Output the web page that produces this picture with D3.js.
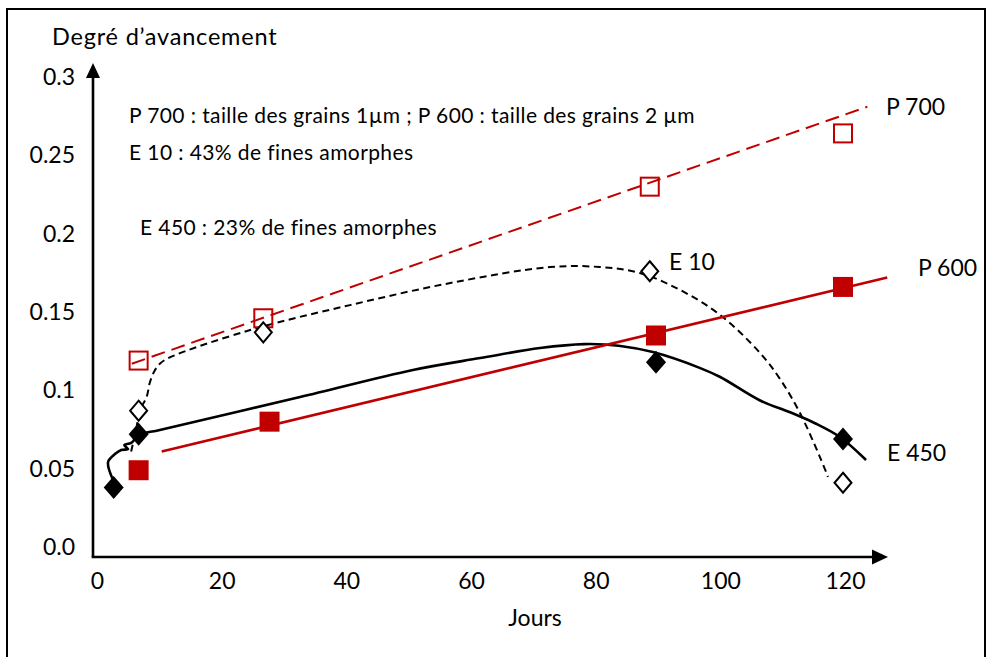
<!DOCTYPE html>
<html><head><meta charset="utf-8">
<script src="https://cdn.jsdelivr.net/npm/d3@7"></script>
<style>
html,body{margin:0;padding:0;background:#fff;}
svg{display:block;font-family:Lato,"Open Sans",sans-serif;}
</style></head><body>
<svg id="chart" width="987" height="657"></svg>
<script>
// Measured degree of advancement (day, value) for each material
const p700Points = [[7,0.119],[27,0.146],[89,0.230],[120,0.264]];
const p600Points = [[7,0.049],[28,0.080],[90,0.135],[120,0.166]];
const e10Points  = [[7,0.087],[27,0.137],[89,0.176],[120,0.041]];
const e450Points = [[3,0.038],[7,0.072],[90,0.118],[120,0.069]];

// Linear trends of the P series (end points)
const p700Trend = [[5.9,0.117],[123.9,0.281]];
const p600Trend = [[10.7,0.061],[127.1,0.172]];

// Smoothed curves of the E series
const e10Curve = [[5.8,0.061],[6.6,0.075],[7.2,0.087],[8.3,0.096],[8.8,0.105],[9.5,0.112],
  [10.4,0.117],[12.0,0.121],[24.9,0.1385],[40.9,0.1544],[57.0,0.1685],[73.0,0.1787],[81.0,0.1787],
  [87.4,0.1749],[93.9,0.164],[100.3,0.1481],[106.7,0.1238],[109.9,0.1072],[113.1,0.0855],
  [116.3,0.0574],[117.6,0.0447]];
const e450Curve = [[2.9,0.0428],[2.1,0.0542],[3.2,0.0593],[4.2,0.0619],[5.3,0.0625],[4.7,0.0651],
  [5.8,0.0664],[7.1,0.0715],[10.4,0.0747],[32.9,0.0957],[51.0,0.1130],[61.8,0.1206],[71.4,0.1270],
  [78.5,0.1295],[84.0,0.1285],[89.5,0.1244],[97.1,0.1142],[100.3,0.1085],[106.7,0.0935],
  [111.5,0.0860],[115.5,0.0790],[119.5,0.0702],[123.7,0.0555]];

const xTicks = [0,20,40,60,80,100,120];
const yTicks = [0,0.05,0.1,0.15,0.2,0.25,0.3];
const yTickLabels = ["0.0","0.05","0.1","0.15","0.2","0.25","0.3"];

const notes = [
  "P 700 : taille des grains 1µm ; P 600 : taille des grains 2 µm",
  "E 10 : 43% de fines amorphes",
  "E 450 : 23% de fines amorphes"
];
const seriesNames = ["P 700","E 10","P 600","E 450"];

const RED = "#C00000";
const svg = d3.select("#chart");

const x = d3.scaleLinear().domain([0,120]).range([95,843]);
const y = d3.scaleLinear().domain([0,0.3]).range([547,77]);

// frame
svg.append("rect").attr("x",7).attr("y",9).attr("width",978).attr("height",670)
  .attr("fill","none").attr("stroke","#000").attr("stroke-width",2);

// axes with arrows
const ox = 93, oy = 557, xEnd = 888, yEnd = 63;
svg.append("line").attr("x1",ox).attr("y1",oy).attr("x2",ox).attr("y2",yEnd+10)
  .attr("stroke","#000").attr("stroke-width",2.6);
svg.append("line").attr("x1",ox-1.3).attr("y1",oy).attr("x2",xEnd-10).attr("y2",oy)
  .attr("stroke","#000").attr("stroke-width",2.6);
svg.append("path").attr("d",`M${ox},${yEnd} L${ox+7},${yEnd+15} L${ox-7},${yEnd+15}Z`).attr("fill","#000");
svg.append("path").attr("d",`M${xEnd},${oy} L${xEnd-16},${oy-7.5} L${xEnd-16},${oy+7.5}Z`).attr("fill","#000");

// tick labels
const gx = svg.append("g").attr("transform",`translate(2,${oy})`)
  .call(d3.axisBottom(x).tickValues(xTicks).tickSize(0).tickPadding(16).tickFormat(d3.format("d")));
gx.select(".domain").remove();
gx.selectAll("text").attr("font-size",23).attr("font-family","Lato").attr("fill","#000");

const gy = svg.append("g").attr("transform",`translate(${ox},0)`)
  .call(d3.axisLeft(y).tickValues(yTicks).tickSize(0).tickPadding(18)
    .tickFormat((d,i)=>yTickLabels[i]));
gy.select(".domain").remove();
gy.selectAll("text").attr("font-size",23).attr("font-family","Lato").attr("fill","#000");

// axis titles
svg.append("text").attr("x",52).attr("y",45).attr("font-size",23.5).attr("letter-spacing",0.8)
  .text("Degré d’avancement");
svg.append("text").attr("x",535).attr("y",626).attr("text-anchor","middle").attr("font-size",23).text("Jours");

// notes
const noteStyle = t => t.attr("font-size",21).attr("letter-spacing",0.4);
svg.append("text").attr("x",129).attr("y",123).call(noteStyle).text(notes[0]);
svg.append("text").attr("x",129).attr("y",160).call(noteStyle).text(notes[1]);
svg.append("text").attr("x",140).attr("y",235).call(noteStyle).text(notes[2]);

const line = d3.line().x(d=>x(d[0])).y(d=>y(d[1]));
const smooth = d3.line().x(d=>x(d[0])).y(d=>y(d[1])).curve(d3.curveCatmullRom.alpha(0.5));

// curves and trend lines
svg.append("path").attr("d",smooth(e10Curve)).attr("fill","none").attr("stroke","#000")
  .attr("stroke-width",2).attr("stroke-dasharray","7,4.5");
svg.append("path").attr("d",smooth(e450Curve)).attr("fill","none").attr("stroke","#000")
  .attr("stroke-width",2.6);
svg.append("path").attr("d",line(p600Trend)).attr("fill","none").attr("stroke",RED)
  .attr("stroke-width",2.6);
svg.append("path").attr("d",line(p700Trend)).attr("fill","none").attr("stroke",RED)
  .attr("stroke-width",2).attr("stroke-dasharray","14,7");

// markers
const S = 20, DW = 20, DH = 23;
const diamond = `M0,${-DH/2} L${DW/2},0 L0,${DH/2} L${-DW/2},0Z`;
svg.append("g").selectAll("rect").data(p600Points).join("rect")
  .attr("x",d=>x(d[0])-S/2).attr("y",d=>y(d[1])-S/2).attr("width",S).attr("height",S)
  .attr("fill",RED);
svg.append("g").selectAll("rect").data(p700Points).join("rect")
  .attr("x",d=>x(d[0])-S/2+1).attr("y",d=>y(d[1])-S/2+1).attr("width",S-2).attr("height",S-2)
  .attr("fill","none").attr("stroke",RED).attr("stroke-width",2);
svg.append("g").selectAll("path").data(e10Points).join("path")
  .attr("transform",d=>`translate(${x(d[0])},${y(d[1])})`).attr("d",`M0,${-DH/2+1.5} L${DW/2-1.5},0 L0,${DH/2-1.5} L${-DW/2+1.5},0Z`)
  .attr("fill","#fff").attr("stroke","#000").attr("stroke-width",2);
svg.append("g").selectAll("path").data(e450Points).join("path")
  .attr("transform",d=>`translate(${x(d[0])},${y(d[1])})`).attr("d",diamond)
  .attr("fill","#000");

// series labels
const labelPos = [[886,115],[669,270],[918,276],[887,461]];
svg.append("g").selectAll("text").data(seriesNames).join("text")
  .attr("x",(d,i)=>labelPos[i][0]).attr("y",(d,i)=>labelPos[i][1])
  .attr("font-size",23).text(d=>d);
</script>
</body></html>
